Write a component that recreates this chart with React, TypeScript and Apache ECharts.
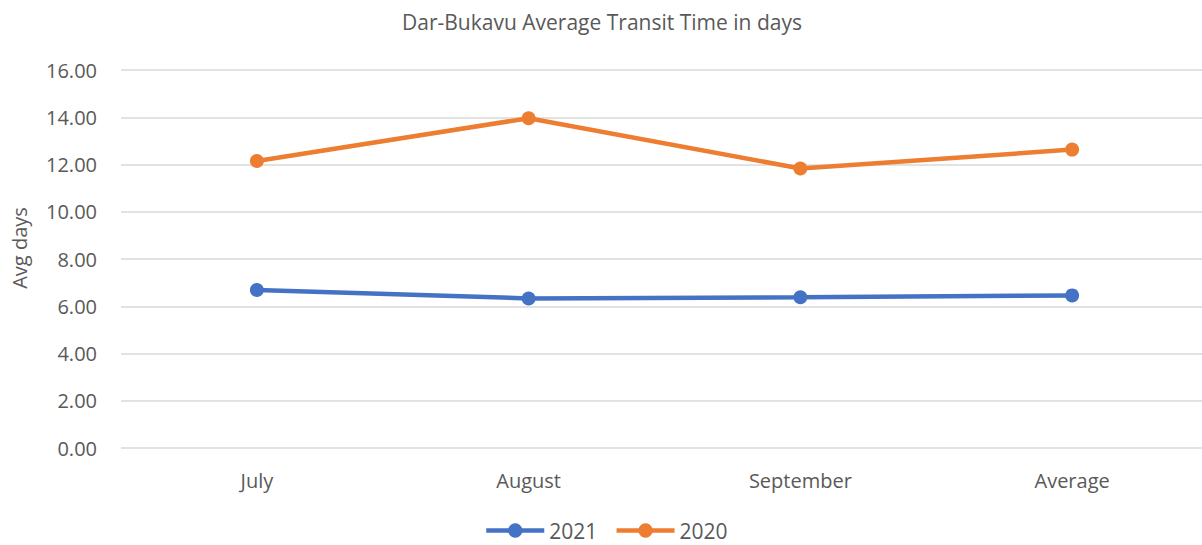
import React, { useEffect, useRef } from "react";
import * as echarts from "echarts";

const categories = ["July", "August", "September", "Average"];
const series2021 = [6.69, 6.33, 6.38, 6.46];
const series2020 = [12.15, 13.96, 11.83, 12.63];
const yTicks = { min: 0, max: 16, interval: 2 };

const FONT = "'Open Sans', 'Liberation Sans', sans-serif";
const TEXT = "#595959";

export default function App() {
  const ref = useRef<HTMLDivElement>(null);
  useEffect(() => {
    document.body.style.margin = "0";
    const chart = echarts.init(ref.current!, null, { renderer: "svg" });
    const mk = (name: string, data: number[], color: string) => ({
      name,
      type: "line",
      data,
      symbol: "circle",
      symbolSize: 14,
      lineStyle: { width: 4.5, color },
      itemStyle: { color },
      emphasis: { disabled: true },
    });
    chart.setOption({
      animation: false,
      textStyle: { fontFamily: FONT },
      title: {
        text: "Dar-Bukavu Average Transit Time in days",
        left: 597,
        textAlign: "center",
        top: 6,
        textStyle: { fontFamily: FONT, fontSize: 21, fontWeight: "normal", color: TEXT },
      },
      legend: {
        top: 520,
        left: 484,
        padding: 0,
        itemWidth: 58,
        itemHeight: 18,
        itemGap: 17,
        lineStyle: { width: 4.5 },
        textStyle: { fontFamily: FONT, fontSize: 21, color: TEXT },
        data: ["2021", "2020"],
      },
      grid: { left: 121, right: 0, top: 70, bottom: 97 },
      xAxis: {
        type: "category",
        data: categories,
        boundaryGap: true,
        axisLine: { show: false },
        axisTick: { show: false },
        axisLabel: { fontFamily: FONT, fontSize: 20, color: TEXT, margin: 22 },
      },
      yAxis: {
        type: "value",
        min: yTicks.min,
        max: yTicks.max,
        interval: yTicks.interval,
        name: "Avg days",
        nameLocation: "middle",
        nameGap: 92,
        nameTextStyle: { fontFamily: FONT, fontSize: 20, color: TEXT, padding: [0, 0, 0, 22] },
        axisLine: { show: false },
        axisTick: { show: false },
        axisLabel: {
          fontFamily: FONT,
          fontSize: 20,
          color: TEXT,
          margin: 24,
          formatter: (v: number) => v.toFixed(2),
        },
        splitLine: { lineStyle: { color: "#d9d9d9", width: 1.5 } },
      },
      series: [mk("2021", series2021, "#4472C4"), mk("2020", series2020, "#ED7D31")],
    });
    return () => chart.dispose();
  }, []);
  return (
    <div style={{ width: 1202, height: 545, overflow: "hidden" }}>
      <div ref={ref} style={{ width: 1208, height: 545 }} />
    </div>
  );
}
